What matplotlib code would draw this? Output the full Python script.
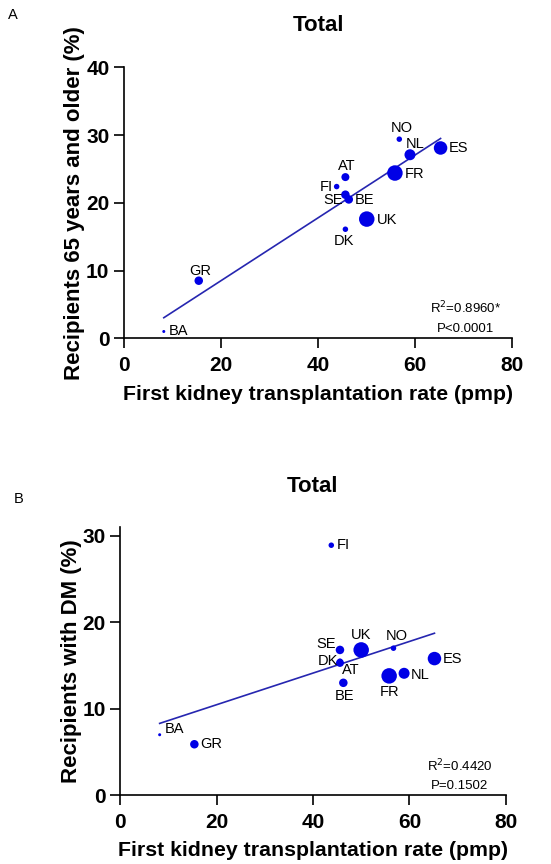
import numpy as np
import matplotlib.pyplot as plt

plt.rcParams['font.family'] = ['Liberation Sans', 'DejaVu Sans']

# country data
countries = ['BA', 'GR', 'FI', 'AT', 'SE', 'BE', 'DK', 'UK', 'FR', 'NO', 'NL', 'ES']
ktx_rate = [8.2, 15.4, 43.8, 45.6, 45.6, 46.3, 45.6, 50.0, 55.8, 56.7, 58.9, 65.2]
pct_65 = [1.0, 8.5, 22.4, 23.8, 21.2, 20.5, 16.1, 17.6, 24.4, 29.4, 27.1, 28.1]
pct_dm = [7.0, 5.9, 28.9, 15.3, 16.8, 13.0, 15.5, 16.8, 13.8, 17.0, 14.1, 15.8]
# marker diameter in pixels (point size relates to number of transplants)
marker_px = [3, 8.5, 5.5, 8, 8.5, 8.5, 5.5, 15.5, 15.5, 5.5, 11, 13.5]

# label offsets (pixels) for each panel
offs_a = [(5, 0, 'left'), (1, 10, 'center'), (-4, 0, 'right'), (1, 11, 'center'),
          (-3, -5, 'right'), (6, -1, 'left'), (-1, -12, 'center'), (10, -1, 'left'),
          (10, -1, 'left'), (2, 11, 'center'), (-4, 11, 'left'), (8, 0, 'left')]
offs_b = [(5, 6, 'left'), (6, 0, 'left'), (5, 0, 'left'), (2, -7, 'left'),
          (-4, 6, 'right'), (1, -13, 'center'), (-2, 0, 'right'), (0, 15, 'center'),
          (0, -16, 'center'), (3, 12, 'center'), (7, -2, 'left'), (8, 0, 'left')]

dot_color = '#0000e6'
line_color = '#2626b0'


def draw_panel(ax, yvals, offs, ylabel, ymax, yticks, stats, ylab_x, xlab_y):
    x = np.array(ktx_rate)
    y = np.array(yvals)
    sizes = (np.array(marker_px) * 72 / 100.0) ** 2
    ax.scatter(x, y, s=sizes, color=dot_color, zorder=3, linewidths=0)
    # linear fit
    k, b = np.polyfit(x, y, 1)
    xs = np.array([x.min(), x.max()])
    ax.plot(xs, k * xs + b, color=line_color, lw=1.2, zorder=2)
    for name, xi, yi, (dx, dy, ha) in zip(countries, x, y, offs):
        ax.annotate(name, (xi, yi), xytext=(dx, dy), textcoords='offset pixels',
                    ha=ha, va='center', fontsize=10.5)
    ax.set_xlim(0, 80)
    ax.set_ylim(0, ymax)
    ax.set_xticks([0, 20, 40, 60, 80])
    ax.set_yticks(yticks)
    for lbl in ax.get_xticklabels() + ax.get_yticklabels():
        lbl.set_fontweight('bold')
    ax.tick_params(labelsize=15, width=1.2, length=7)
    ax.tick_params(axis='x', pad=6)
    ax.spines['top'].set_visible(False)
    ax.spines['right'].set_visible(False)
    ax.spines['left'].set_linewidth(1.2)
    ax.spines['bottom'].set_linewidth(1.2)
    ax.set_xlabel('First kidney transplantation rate (pmp)', fontsize=15.3,
                  fontweight='bold')
    ax.set_ylabel(ylabel, fontsize=16, fontweight='bold')
    ax.yaxis.set_label_coords(ylab_x, 0.5)
    ax.xaxis.set_label_coords(0.5, xlab_y)
    ax.text(0.88, 0.11, stats[0], transform=ax.transAxes, ha='center',
            va='center', fontsize=9.5)
    ax.text(0.88, 0.036, stats[1], transform=ax.transAxes, ha='center',
            va='center', fontsize=9.5)


fig = plt.figure(figsize=(5.51, 8.64), dpi=100)

ax1 = fig.add_axes([0.225, 0.6085, 0.705, 0.3135])
draw_panel(ax1, pct_65, offs_a, 'Recipients 65 years and older (%)', 40,
           [0, 10, 20, 30, 40], ['R$^2$=0.8960*', 'P<0.0001'], -0.10, -0.172)
ax1.set_title('Total', fontsize=16, fontweight='bold', pad=26)

ax2 = fig.add_axes([0.218, 0.0795, 0.70, 0.3105])
draw_panel(ax2, pct_dm, offs_b, 'Recipients with DM (%)', 31,
           [0, 10, 20, 30], ['R$^2$=0.4420', 'P=0.1502'], -0.10, -0.172)
ax2.set_title('Total', fontsize=16, fontweight='bold', pad=25)

fig.text(0.024, 0.983, 'A', fontsize=10.5, ha='center', va='center')
fig.text(0.034, 0.422, 'B', fontsize=10.5, ha='center', va='center')

fig.savefig('out.png', dpi=100)
